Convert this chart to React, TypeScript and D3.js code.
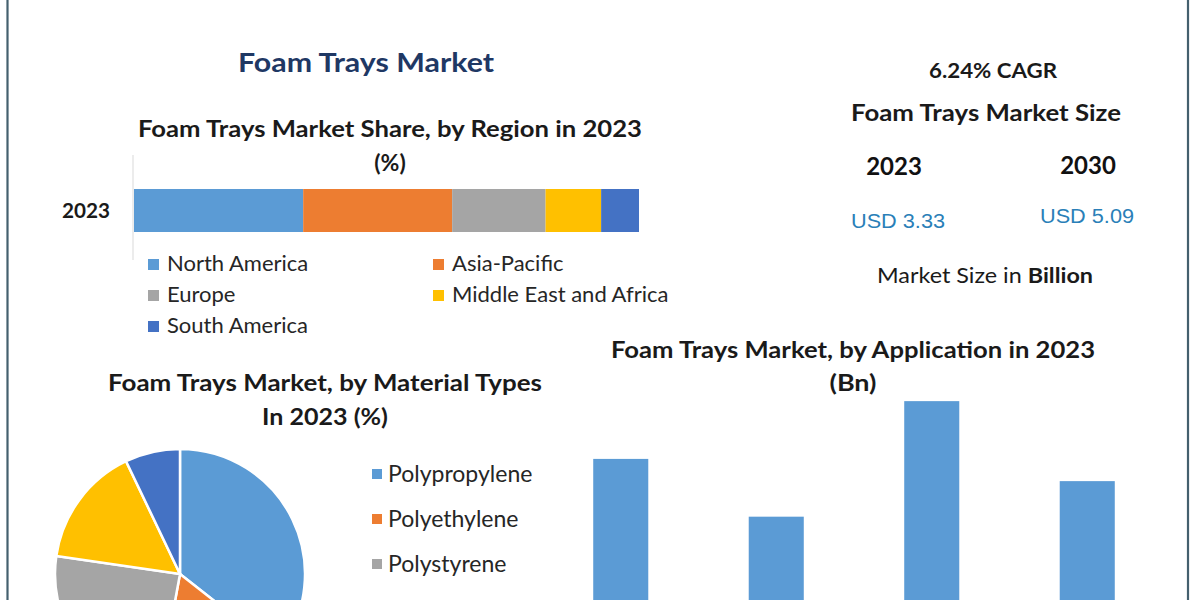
import React from "react";
import * as d3 from "d3";

const regions = ["North America", "Asia-Pacific", "Europe", "Middle East and Africa", "South America"];
const regionShare = [33.5, 29.5, 18.5, 11, 7.5];
const regionColors = ["#5b9bd5", "#ed7d31", "#a5a5a5", "#ffc000", "#4472c4"];

const materials = ["Polypropylene", "Polyethylene", "Polystyrene", "Polyurethane", "Others"];
const materialShare = [35.6, 17.3, 24.4, 15.6, 7.1];

const applications = ["Meat, Poultry & Seafood", "Fruits & Vegetables", "Bakery & Confectionery", "Others"];
const applicationValues = [0.86, 0.6, 1.12, 0.76];

const sizeYears = ["2023", "2030"];
const sizeValues = ["USD 3.33", "USD 5.09"];

const FONT = "Lato, 'Open Sans', sans-serif";

export default function App() {
  // stacked region bar
  const xReg = d3.scaleLinear().domain([0, 100]).range([134, 639]);
  const cum = d3.cumsum(regionShare);
  const regSegs = regionShare.map((v, i) => ({ name: regions[i], x0: cum[i] - v, x1: cum[i], color: regionColors[i] }));

  // pie
  const pie = d3.pie<number>().sort(null).value((d) => d)(materialShare);
  const arc = d3.arc<d3.PieArcDatum<number>>().innerRadius(0).outerRadius(125);

  // application bars
  const xApp = d3.scaleBand<string>().domain(applications).range([543, 1165]).paddingInner(0.646).paddingOuter(0.323);
  const yApp = d3.scaleLinear().domain([0, 1.2]).range([650, 650 - 1.2 * 222.2]);

  const legendPos = [
    [148, 264],
    [433, 264],
    [148, 295],
    [433, 295],
    [148, 326],
  ];

  return (
    <svg width={1200} height={600} style={{ position: "absolute", left: 0, top: 0, background: "#fff" }} fontFamily={FONT}>
      <rect x={0} y={0} width={1200} height={600} fill="#fff" />
      {/* frame lines */}
      <line x1={7.5} x2={7.5} y1={0} y2={600} stroke="#44606e" strokeWidth={2.2} />
      <line x1={1188} x2={1188} y1={0} y2={600} stroke="#44606e" strokeWidth={2.2} />

      {/* main title */}
      <text x={366} y={72} textAnchor="middle" fontSize={27} fontWeight={700} fill="#1f3864" textLength={256} lengthAdjust="spacingAndGlyphs">
        Foam Trays Market
      </text>

      {/* region share */}
      <text x={390} y={137} textAnchor="middle" fontSize={23} fontWeight={700} fill="#1a1a1a" textLength={504} lengthAdjust="spacingAndGlyphs">
        Foam Trays Market Share, by Region in 2023
      </text>
      <text x={390} y={171} textAnchor="middle" fontSize={23} fontWeight={700} fill="#1a1a1a">
        (%)
      </text>
      <line x1={133} x2={133} y1={155} y2={260} stroke="#d9d9d9" strokeWidth={1} />
      {regSegs.map((s) => (
        <rect key={s.name} x={xReg(s.x0)} y={189} width={xReg(s.x1) - xReg(s.x0)} height={43} fill={s.color} />
      ))}
      <text x={86} y={218} textAnchor="middle" fontSize={20} fontWeight={700} fill="#1a1a1a" textLength={48} lengthAdjust="spacingAndGlyphs">
        2023
      </text>
      {regions.map((r, i) => (
        <g key={r}>
          <rect x={legendPos[i][0]} y={legendPos[i][1] - 5} width={11} height={11} fill={regionColors[i]} />
          <text x={legendPos[i][0] + 19} y={legendPos[i][1] + 7} fontSize={22} fill="#262626">
            {r}
          </text>
        </g>
      ))}

      {/* right panel */}
      <text x={993} y={78} textAnchor="middle" fontSize={20} fontWeight={700} fill="#1a1a1a" textLength={128} lengthAdjust="spacingAndGlyphs">
        6.24% CAGR
      </text>
      <text x={986} y={121} textAnchor="middle" fontSize={23} fontWeight={700} fill="#1a1a1a" textLength={270} lengthAdjust="spacingAndGlyphs">
        Foam Trays Market Size
      </text>
      {sizeYears.map((y, i) => (
        <text key={y} x={[894, 1088][i]} y={[175, 174][i]} textAnchor="middle" fontSize={24} fontWeight={700} fill="#111">
          {y}
        </text>
      ))}
      {sizeValues.map((v, i) => (
        <text key={v} x={[898, 1087][i]} y={[228, 223][i]} textAnchor="middle" fontSize={20} fill="#2a7fb8" fontFamily="'Liberation Sans', Arial, sans-serif" textLength={94} lengthAdjust="spacingAndGlyphs">
          {v}
        </text>
      ))}
      <text x={985} y={283} textAnchor="middle" fontSize={21} fill="#1a1a1a" textLength={216} lengthAdjust="spacingAndGlyphs">
        Market Size in <tspan fontWeight={700}>Billion</tspan>
      </text>

      {/* material pie */}
      <text x={325} y={391} textAnchor="middle" fontSize={22} fontWeight={700} fill="#1a1a1a" textLength={434} lengthAdjust="spacingAndGlyphs">
        Foam Trays Market, by Material Types
      </text>
      <text x={325} y={425} textAnchor="middle" fontSize={22} fontWeight={700} fill="#1a1a1a" textLength={126} lengthAdjust="spacingAndGlyphs">
        In 2023 (%)
      </text>
      <g transform="translate(180,574)">
        {pie.map((p, i) => (
          <path key={materials[i]} d={arc(p) || ""} fill={regionColors[i]} stroke="#fff" strokeWidth={2.5} />
        ))}
      </g>
      {materials.slice(0, 4).map((m, i) => (
        <g key={m}>
          <rect x={372} y={474 + i * 45 - 5} width={10} height={10} fill={regionColors[i]} />
          <text x={388} y={482 + i * 45} fontSize={23} fill="#262626">
            {m}
          </text>
        </g>
      ))}

      {/* application bars */}
      <text x={853} y={358} textAnchor="middle" fontSize={22} fontWeight={700} fill="#1a1a1a" textLength={484} lengthAdjust="spacingAndGlyphs">
        Foam Trays Market, by Application in 2023
      </text>
      <text x={853} y={391} textAnchor="middle" fontSize={22} fontWeight={700} fill="#1a1a1a" textLength={47} lengthAdjust="spacingAndGlyphs">
        (Bn)
      </text>
      {applications.map((a, i) => (
        <rect key={a} x={xApp(a)} y={yApp(applicationValues[i])} width={xApp.bandwidth()} height={yApp(0) - yApp(applicationValues[i])} fill="#5b9bd5" />
      ))}
    </svg>
  );
}
